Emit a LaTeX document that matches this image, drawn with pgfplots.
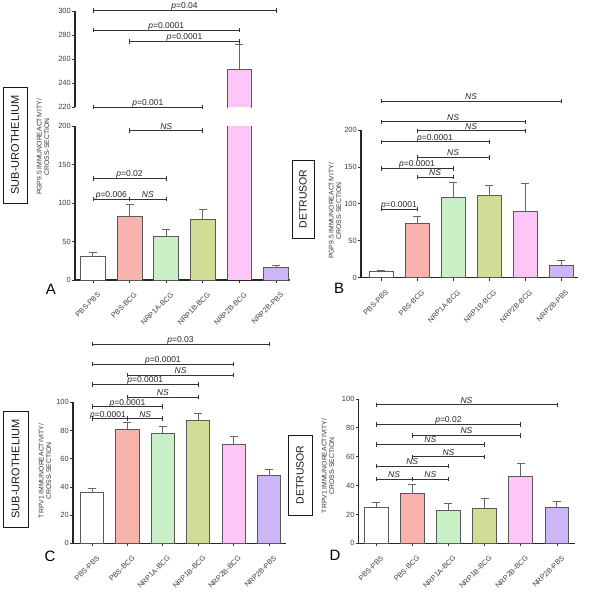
\documentclass[border=0pt]{standalone}
\usepackage{pgfplots}
\pgfplotsset{compat=1.18}
\usepackage{fontspec}
\setmainfont{Liberation Sans}

\definecolor{c0}{HTML}{FFFFFF}
\definecolor{c1}{HTML}{F8B3AD}
\definecolor{c2}{HTML}{C8EFC5}
\definecolor{c3}{HTML}{D0DD96}
\definecolor{c4}{HTML}{FDC6F6}
\definecolor{c5}{HTML}{CDB6F8}

\pgfplotsset{
  base/.style={scale only axis, axis x line*=bottom, axis y line*=left,
    tick align=outside, major tick length=3pt, minor tick num=0,
    axis line style={line width=1.1pt, color=black!85},
    tick style={line width=0.8pt, color=black!80},
    yticklabel style={font=\fontsize{7.5}{8}\selectfont, color=black!75, inner sep=1pt},
    xtick={0,...,5},
    xticklabels={PBS-PBS,PBS-BCG,NRP1A-BCG,NRP1B-BCG,NRP2B-BCG,NRP2B-PBS},
    xticklabel style={rotate=45, anchor=north east, font=\fontsize{7.3}{8}\selectfont, color=black!75, inner sep=1pt, xshift=-2pt, yshift=-8pt},
    /pgf/number format/assume math mode=true},
  ov/.style={scale only axis, hide axis, clip=false},
  barsty/.style={ybar, bar shift=0pt, draw=black!65, line width=0.9pt,
    error bars/y dir=plus, error bars/y explicit,
    error bars/error bar style={line width=1pt, color=black!60},
    error bars/error mark options={rotate=90, mark size=4pt, line width=1pt, color=black!60}},
  outl/.style={draw=black!65, line width=0.9pt, no markers},
  brk/.style={color=black!80, line width=0.8pt, mark=|, mark size=2.2pt, mark options={solid, line width=0.8pt}},
}
\tikzset{lbl/.style={anchor=base, yshift=1.5pt, font=\fontsize{8.5}{9}\selectfont, inner sep=0pt, color=black!85}}

\begin{document}
\begin{tikzpicture}
\path[use as bounding box] (0pt,0pt) rectangle (600pt,-597pt);

% ================= Panel A lower
\begin{axis}[base, at={(75pt,-280pt)}, anchor=south west, width=215pt, height=154pt,
  xmin=-0.49, xmax=5.38, ymin=0, ymax=200, ytick={0,50,...,200}, bar width=0.68]
\addplot[fill=c0, barsty] coordinates {(0,30) +- (0,6)};
\addplot[fill=c1, barsty] coordinates {(1,82) +- (0,16)};
\addplot[fill=c2, barsty] coordinates {(2,56) +- (0,9)};
\addplot[fill=c3, barsty] coordinates {(3,79) +- (0,12)};
\addplot[fill=c4, barsty, draw=none] coordinates {(4,251) +- (0,21)};
\addplot[outl] coordinates {(3.66,0) (3.66,210)};
\addplot[outl] coordinates {(4.34,0) (4.34,210)};
\addplot[fill=c5, barsty] coordinates {(5,16) +- (0,3)};
\end{axis}
\begin{axis}[ov, at={(75pt,-280pt)}, anchor=south west, width=215pt, height=154pt,
  xmin=-0.49, xmax=5.38, ymin=0, ymax=200]
\addplot[brk] coordinates {(0,105) (1,105)};
\node[lbl] at (axis cs:0.5,105) {\textit{p}=0.006};
\addplot[brk] coordinates {(1,105) (2,105)};
\node[lbl] at (axis cs:1.5,105) {\textit{NS}};
\addplot[brk] coordinates {(0,132) (2,132)};
\node[lbl] at (axis cs:1,132) {\textit{p}=0.02};
\addplot[brk] coordinates {(1,194) (3,194)};
\node[lbl] at (axis cs:2,194) {\textit{NS}};
\end{axis}
% ================= Panel A upper
\begin{axis}[base, axis x line=none, at={(75pt,-107pt)}, anchor=south west, width=215pt, height=96pt,
  xmin=-0.49, xmax=5.38, ymin=220, ymax=300, ytick={220,240,...,300}, bar width=0.68]
\addplot[fill=c4, barsty, draw=none] coordinates {(4,251) +- (0,21)};
\addplot[outl] coordinates {(3.66,210) (3.66,251) (4.34,251) (4.34,210)};
\end{axis}
\begin{axis}[ov, at={(75pt,-107pt)}, anchor=south west, width=215pt, height=96pt,
  xmin=-0.49, xmax=5.38, ymin=220, ymax=300]
\addplot[brk] coordinates {(0,220) (3,220)};
\node[lbl] at (axis cs:1.5,220) {\textit{p}=0.001};
\addplot[brk] coordinates {(1,274.7) (4,274.7)};
\node[lbl] at (axis cs:2.5,274.7) {\textit{p}=0.0001};
\addplot[brk] coordinates {(0,284) (4,284)};
\node[lbl] at (axis cs:2,284) {\textit{p}=0.0001};
\addplot[brk] coordinates {(0,300.5) (5,300.5)};
\node[lbl] at (axis cs:2.5,300.5) {\textit{p}=0.04};
\end{axis}

% ================= Panel B
\begin{axis}[base, clip=false, at={(361pt,-277.7pt)}, anchor=south west, width=217pt, height=147.7pt,
  xmin=-0.556, xmax=5.47, ymin=0, ymax=200, ytick={0,50,...,200}, bar width=0.67]
\addplot[fill=c0, barsty] coordinates {(0,8) +- (0,2)};
\addplot[fill=c1, barsty] coordinates {(1,73) +- (0,10)};
\addplot[fill=c2, barsty] coordinates {(2,109) +- (0,20)};
\addplot[fill=c3, barsty] coordinates {(3,111) +- (0,14)};
\addplot[fill=c4, barsty] coordinates {(4,90) +- (0,38)};
\addplot[fill=c5, barsty] coordinates {(5,17) +- (0,6)};
\addplot[brk] coordinates {(0,93) (1,93)};
\node[lbl] at (axis cs:0.5,93) {\textit{p}=0.0001};
\addplot[brk] coordinates {(1,136) (2,136)};
\node[lbl] at (axis cs:1.5,136) {\textit{NS}};
\addplot[brk] coordinates {(0,148) (2,148)};
\node[lbl] at (axis cs:1,148) {\textit{p}=0.0001};
\addplot[brk] coordinates {(1,163) (3,163)};
\node[lbl] at (axis cs:2,163) {\textit{NS}};
\addplot[brk] coordinates {(0,184) (3,184)};
\node[lbl] at (axis cs:1.5,184) {\textit{p}=0.0001};
\addplot[brk] coordinates {(1,199) (4,199)};
\node[lbl] at (axis cs:2.5,199) {\textit{NS}};
\addplot[brk] coordinates {(0,211) (4,211)};
\node[lbl] at (axis cs:2,211) {\textit{NS}};
\addplot[brk] coordinates {(0,239) (5,239)};
\node[lbl] at (axis cs:2.5,239) {\textit{NS}};
\end{axis}

% ================= Panel C
\begin{axis}[base, clip=false, at={(73pt,-543.3pt)}, anchor=south west, width=213pt, height=141pt,
  xmin=-0.54, xmax=5.48, ymin=0, ymax=100, ytick={0,20,...,100}, bar width=0.66]
\addplot[fill=c0, barsty] coordinates {(0,36) +- (0,3)};
\addplot[fill=c1, barsty] coordinates {(1,81) +- (0,5)};
\addplot[fill=c2, barsty] coordinates {(2,78) +- (0,4.5)};
\addplot[fill=c3, barsty] coordinates {(3,87) +- (0,5)};
\addplot[fill=c4, barsty] coordinates {(4,70) +- (0,5.5)};
\addplot[fill=c5, barsty] coordinates {(5,48) +- (0,4.5)};
\addplot[brk] coordinates {(0,88.4) (1,88.4)};
\node[lbl] at (axis cs:0.45,88.4) {\textit{p}=0.0001};
\addplot[brk] coordinates {(1,88.4) (2,88.4)};
\node[lbl] at (axis cs:1.5,88.4) {\textit{NS}};
\addplot[brk] coordinates {(0,97) (2,97)};
\node[lbl] at (axis cs:1,97) {\textit{p}=0.0001};
\addplot[brk] coordinates {(1,103.8) (3,103.8)};
\node[lbl] at (axis cs:2,103.8) {\textit{NS}};
\addplot[brk] coordinates {(0,112.7) (3,112.7)};
\node[lbl] at (axis cs:1.5,112.7) {\textit{p}=0.0001};
\addplot[brk] coordinates {(1,119.4) (4,119.4)};
\node[lbl] at (axis cs:2.5,119.4) {\textit{NS}};
\addplot[brk] coordinates {(0,127) (4,127)};
\node[lbl] at (axis cs:2,127) {\textit{p}=0.0001};
\addplot[brk] coordinates {(0,141.3) (5,141.3)};
\node[lbl] at (axis cs:2.5,141.3) {\textit{p}=0.03};
\end{axis}

% ================= Panel D
\begin{axis}[base, clip=false, at={(358.7pt,-543.3pt)}, anchor=south west, width=216.3pt, height=144.3pt,
  xmin=-0.48, xmax=5.5, ymin=0, ymax=100, ytick={0,20,...,100}, bar width=0.66]
\addplot[fill=c0, barsty] coordinates {(0,25) +- (0,3.5)};
\addplot[fill=c1, barsty] coordinates {(1,34.5) +- (0,6.5)};
\addplot[fill=c2, barsty] coordinates {(2,23) +- (0,4.5)};
\addplot[fill=c3, barsty] coordinates {(3,24) +- (0,7)};
\addplot[fill=c4, barsty] coordinates {(4,46.5) +- (0,8.5)};
\addplot[fill=c5, barsty] coordinates {(5,25) +- (0,4)};
\addplot[brk] coordinates {(0,44.5) (1,44.5)};
\node[lbl] at (axis cs:0.5,44.5) {\textit{NS}};
\addplot[brk] coordinates {(1,44.5) (2,44.5)};
\node[lbl] at (axis cs:1.5,44.5) {\textit{NS}};
\addplot[brk] coordinates {(0,53.5) (2,53.5)};
\node[lbl] at (axis cs:1,53.5) {\textit{NS}};
\addplot[brk] coordinates {(1,60) (3,60)};
\node[lbl] at (axis cs:2,60) {\textit{NS}};
\addplot[brk] coordinates {(0,68.6) (3,68.6)};
\node[lbl] at (axis cs:1.5,68.6) {\textit{NS}};
\addplot[brk] coordinates {(1,74.8) (4,74.8)};
\node[lbl] at (axis cs:2.5,74.8) {\textit{NS}};
\addplot[brk] coordinates {(0,82.4) (4,82.4)};
\node[lbl] at (axis cs:2,82.4) {\textit{p}=0.02};
\addplot[brk] coordinates {(0,96) (5,96)};
\node[lbl] at (axis cs:2.5,96) {\textit{NS}};
\end{axis}

% ================= Boxes, y labels, letters
\tikzset{box/.style={draw=black!85, line width=0.8pt, rotate=90, inner sep=0pt, color=black!90}}
\node[box, minimum width=116pt, minimum height=24pt, font=\fontsize{11}{12}\selectfont] at (15pt,-145pt) {SUB-UROTHELIUM};
\node[box, minimum width=78pt, minimum height=22pt, font=\fontsize{10.5}{12}\selectfont] at (303pt,-199pt) {DETRUSOR};
\node[box, minimum width=116pt, minimum height=25pt, font=\fontsize{11}{12}\selectfont] at (15.5pt,-469pt) {SUB-UROTHELIUM};
\node[box, minimum width=80pt, minimum height=24pt, font=\fontsize{10.5}{12}\selectfont] at (300pt,-475pt) {DETRUSOR};

\tikzset{ylab/.style={rotate=90, align=center, font=\fontsize{6.8}{7.6}\selectfont, color=black!80, inner sep=0pt}}
\node[ylab] at (43pt,-147pt) {PGP9.5 IMMUNOREACTIVITY/\\CROSS-SECTION};
\node[ylab] at (335pt,-211pt) {PGP9.5 IMMUNOREACTIVITY/\\CROSS-SECTION};
\node[ylab] at (45pt,-471pt) {TRPV1 IMMUNOREACTIVITY/\\CROSS-SECTION};
\node[ylab] at (328pt,-466pt) {TRPV1 IMMUNOREACTIVITY/\\CROSS-SECTION};

\tikzset{pletter/.style={font=\fontsize{15}{16}\selectfont, inner sep=0pt}}
\node[pletter] at (51pt,-289pt) {A};
\node[pletter] at (339pt,-288pt) {B};
\node[pletter] at (50pt,-556pt) {C};
\node[pletter] at (335pt,-555pt) {D};
\end{tikzpicture}
\end{document}
